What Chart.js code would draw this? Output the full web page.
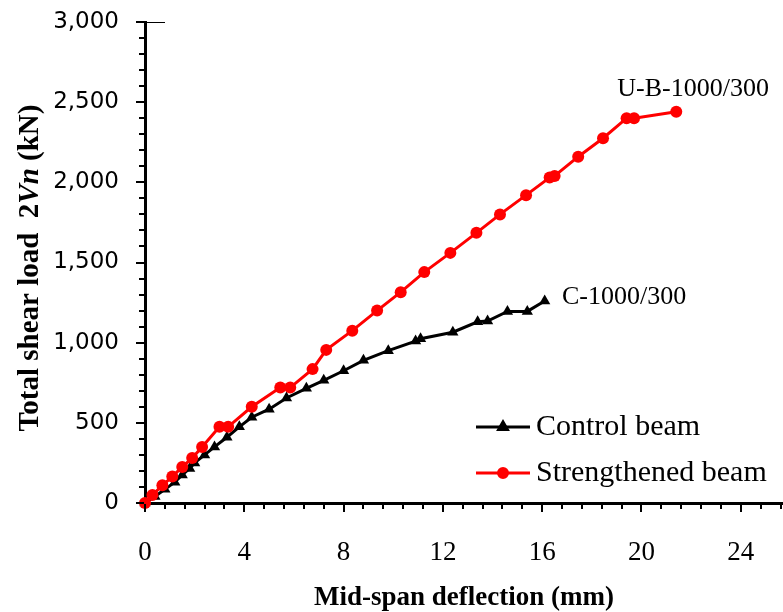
<!DOCTYPE html>
<html>
<head>
<meta charset="utf-8">
<script src="https://cdn.jsdelivr.net/npm/chart.js@4.4.0/dist/chart.umd.min.js"></script>
<style>
  html, body { margin: 0; padding: 0; background: #fff; }
  canvas { display: block; }
</style>
</head>
<body>
<canvas id="deflectionChart" width="783" height="612"></canvas>
<script>
// Mid-span deflection (mm) vs total shear load 2Vn (kN)
const xTicks = [0, 4, 8, 12, 16, 20, 24];

const controlDeflection = [0, 0.4, 0.8, 1.2, 1.5, 1.8, 2.0, 2.4, 2.8, 3.3, 3.8, 4.3, 5.0, 5.7, 6.5, 7.2, 8.0, 8.8, 9.8, 10.9, 11.1, 12.4, 13.4, 13.8, 14.6, 15.4, 16.1];
const controlLoad = [0, 40, 85, 130, 175, 215, 250, 300, 350, 410, 475, 535, 585, 655, 715, 765, 825, 890, 950, 1010, 1025, 1065, 1130, 1135, 1195, 1195, 1260];

const strengthenedDeflection = [0, 0.3, 0.7, 1.1, 1.5, 1.9, 2.3, 3.0, 3.35, 4.3, 5.45, 5.85, 6.75, 7.3, 8.35, 9.35, 10.3, 11.25, 12.3, 13.35, 14.3, 15.35, 16.3, 16.5, 17.45, 18.45, 19.4, 19.7, 21.4];
const strengthenedLoad = [0, 50, 110, 165, 225, 280, 350, 475, 475, 600, 720, 720, 835, 955, 1075, 1200, 1315, 1440, 1560, 1685, 1800, 1920, 2030, 2040, 2160, 2275, 2400, 2400, 2440];

const seriesLabels = ['Control beam', 'Strengthened beam'];
const specimenLabels = ['C-1000/300', 'U-B-1000/300'];
// where the specimen names sit, in data units
const specimenAnchors = [[19.3, 1285], [22.08, 2580]];

const toPoints = (xs, ys) => xs.map((v, i) => ({ x: v, y: ys[i] }));

const SERIF = '"Liberation Serif", "Times New Roman", serif';

// minor/major tick marks on both axes
const axisTicks = {
  id: 'axisTicks',
  afterDraw(chart) {
    const { ctx, scales: { x, y } } = chart;
    ctx.save();
    ctx.strokeStyle = '#000';
    ctx.lineWidth = 2;
    ctx.beginPath();
    for (let i = 0; i * 0.8 <= x.max; i++) {
      const px = Math.round(x.getPixelForValue(i * 0.8));
      const len = i % 5 === 0 ? 8 : 5;
      ctx.moveTo(px, y.bottom + 1);
      ctx.lineTo(px, y.bottom + 1 + len);
    }
    for (let v = 0; v <= y.max; v += 100) {
      const py = Math.round(y.getPixelForValue(v));
      const len = v % 500 === 0 ? 8 : 5;
      ctx.moveTo(x.left - 1, py);
      ctx.lineTo(x.left - 1 - len, py);
    }
    ctx.stroke();
    // thin cap line at the top of the y axis
    ctx.lineWidth = 1;
    ctx.beginPath();
    const top = Math.round(y.getPixelForValue(y.max)) + 0.5;
    ctx.moveTo(x.left, top);
    ctx.lineTo(x.left + 20, top);
    ctx.stroke();
    ctx.restore();
  }
};

// y title with the italic "Vn"
const yTitle = {
  id: 'yTitle',
  afterDraw(chart) {
    const { ctx } = chart;
    const size = 29;
    const parts = [
      ['Total shear load  ', `bold ${size}px ${SERIF}`],
      ['2', `bold ${size}px ${SERIF}`],
      ['Vn', `italic bold ${size}px ${SERIF}`],
      [' (kN)', `bold ${size}px ${SERIF}`]
    ];
    ctx.save();
    let total = 0;
    parts.forEach(([t, f]) => { ctx.font = f; total += ctx.measureText(t).width; });
    ctx.translate(31, 268);
    ctx.rotate(-Math.PI / 2);
    ctx.fillStyle = '#000';
    ctx.textBaseline = 'middle';
    let pos = -total / 2;
    parts.forEach(([t, f]) => {
      ctx.font = f;
      ctx.fillText(t, pos, 0);
      pos += ctx.measureText(t).width;
    });
    ctx.restore();
  }
};

// specimen names next to the curve ends
const specimenNames = {
  id: 'specimenNames',
  afterDraw(chart) {
    const { ctx, scales: { x, y } } = chart;
    ctx.save();
    ctx.font = '26px ' + SERIF;
    ctx.fillStyle = '#000';
    ctx.textAlign = 'center';
    ctx.textBaseline = 'middle';
    specimenLabels.forEach((t, i) => {
      const [dx, dy] = specimenAnchors[i];
      ctx.fillText(t, x.getPixelForValue(dx), y.getPixelForValue(dy));
    });
    ctx.restore();
  }
};

// legend inside the plot, line + marker
const innerLegend = {
  id: 'innerLegend',
  afterDraw(chart) {
    const { ctx } = chart;
    const x0 = 476, x1 = 530, rows = [427, 473];
    ctx.save();
    chart.data.datasets.forEach((ds, i) => {
      const yy = rows[i];
      ctx.strokeStyle = ds.borderColor;
      ctx.lineWidth = 3;
      ctx.beginPath();
      ctx.moveTo(x0, yy);
      ctx.lineTo(x1, yy);
      ctx.stroke();
      Chart.helpers.drawPoint(ctx, {
        pointStyle: ds.pointStyle,
        radius: ds.pointStyle === 'triangle' ? 5 : 4.5,
        borderWidth: 1
      }, (x0 + x1) / 2, yy);
      ctx.fillStyle = ds.borderColor;
      ctx.fill();
      ctx.fillStyle = '#000';
      ctx.font = '30px ' + SERIF;
      ctx.textBaseline = 'middle';
      ctx.fillText(ds.label, x1 + 6, yy);
    });
    ctx.restore();
  }
};

new Chart(document.getElementById('deflectionChart'), {
  type: 'scatter',
  data: {
    datasets: [
      {
        label: seriesLabels[0],
        data: toPoints(controlDeflection, controlLoad),
        showLine: true,
        borderColor: '#000000',
        backgroundColor: '#000000',
        borderWidth: 3,
        pointStyle: 'triangle',
        pointRadius: 6.5,
        pointBorderWidth: 0,
        order: 2,
        clip: false
      },
      {
        label: seriesLabels[1],
        data: toPoints(strengthenedDeflection, strengthenedLoad),
        showLine: true,
        borderColor: '#ff0000',
        backgroundColor: '#ff0000',
        borderWidth: 3,
        pointStyle: 'circle',
        pointRadius: 6,
        pointBorderWidth: 0,
        order: 1,
        clip: false
      }
    ]
  },
  options: {
    responsive: false,
    animation: false,
    devicePixelRatio: 1,
    layout: { autoPadding: false, padding: { top: 22, left: 0, right: 0, bottom: 0 } },
    plugins: {
      legend: { display: false },
      tooltip: { enabled: false }
    },
    scales: {
      x: {
        type: 'linear',
        min: 0,
        max: 25.7,
        afterBuildTicks: axis => { axis.ticks = xTicks.map(v => ({ value: v })); },
        afterFit: axis => {
          axis.height = 109;
          axis.paddingLeft = 0;
          axis.paddingRight = 0;
        },
        grid: { display: false },
        border: { display: true, color: '#000', width: 3 },
        ticks: {
          color: '#000',
          padding: 26,
          maxRotation: 0,
          font: { family: SERIF, size: 27 }
        },
        title: {
          display: true,
          text: 'Mid-span deflection (mm)',
          color: '#000',
          font: { family: SERIF, size: 27, weight: 'bold' },
          padding: { top: 0, bottom: -2 }
        }
      },
      y: {
        type: 'linear',
        min: 0,
        max: 3000,
        afterFit: axis => {
          axis.width = 145;
          axis.paddingTop = 0;
          axis.paddingBottom = 0;
        },
        grid: { display: false },
        border: { display: true, color: '#000', width: 3 },
        ticks: {
          stepSize: 500,
          color: '#000',
          padding: 18,
          font: { family: '"DejaVu Sans", Verdana, sans-serif', size: 23 }
        }
      }
    }
  },
  plugins: [axisTicks, yTitle, specimenNames, innerLegend]
});
</script>
</body>
</html>
